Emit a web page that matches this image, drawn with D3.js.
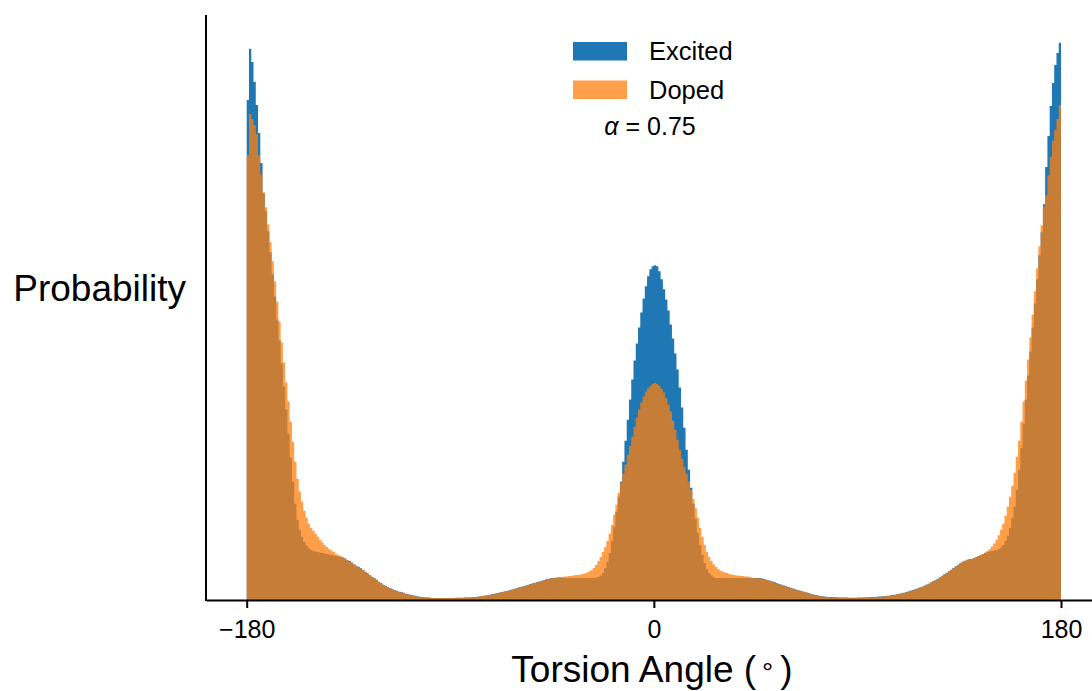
<!DOCTYPE html>
<html><head><meta charset="utf-8">
<script src="https://cdn.jsdelivr.net/npm/d3@7"></script>
<style>
body{margin:0;background:#fff}
svg text{font-family:"Liberation Sans",Arial,Helvetica,sans-serif;fill:#000}
</style>
</head><body>
<svg id="chart" width="1092" height="691"></svg>
<script>
// Torsion angle histogram, 1-degree bins from -180 to 180 (relative probability, arbitrary units)
const binEdges = d3.range(-180, 181, 1);
const excited = [
49.9,55.0,53.7,51.7,49.4,46.6,43.6,40.6,38.8,36.8,
34.7,32.5,30.3,28.0,25.9,23.6,21.3,19.0,16.6,14.2,
11.8,9.6,8.0,7.0,6.3,5.8,5.45,5.2,5.0,4.9,
4.85,4.8,4.75,4.7,4.65,4.6,4.55,4.5,4.45,4.4,
4.35,4.3,4.25,4.15,4.0,3.88,3.73,3.58,3.43,3.33,
3.18,3.03,2.83,2.68,2.48,2.33,2.18,2.03,1.83,1.68,
1.53,1.43,1.28,1.18,1.08,0.98,0.92,0.82,0.77,0.72,
0.62,0.57,0.52,0.47,0.42,0.37,0.32,0.3,0.28,0.26,
0.24,0.22,0.21,0.21,0.2,0.2,0.2,0.2,0.2,0.21,
0.21,0.21,0.22,0.22,0.22,0.23,0.24,0.25,0.26,0.27,
0.29,0.31,0.34,0.37,0.41,0.44,0.48,0.52,0.57,0.62,
0.67,0.72,0.77,0.82,0.87,0.92,0.99,1.06,1.12,1.19,
1.26,1.32,1.37,1.44,1.52,1.59,1.67,1.72,1.79,1.84,
1.92,1.99,2.06,2.12,2.17,2.2,2.22,2.24,2.22,2.22,
2.21,2.2,2.19,2.2,2.2,2.21,2.2,2.19,2.2,2.2,
2.2,2.2,2.2,2.2,2.25,2.3,2.45,2.7,3.2,3.8,
4.7,5.9,7.3,8.8,10.3,11.8,13.8,15.9,18.0,20.0,
22.0,23.9,25.6,27.2,28.7,30.1,31.3,32.3,33.0,33.3,
33.4,33.3,32.8,32.0,31.0,30.0,28.9,27.5,26.1,24.6,
23.0,21.2,19.2,17.2,15.0,13.0,11.2,9.6,8.1,6.7,
5.5,4.5,3.7,3.1,2.7,2.45,2.3,2.2,2.2,2.2,
2.2,2.21,2.2,2.2,2.19,2.2,2.2,2.21,2.2,2.2,
2.2,2.2,2.2,2.2,2.2,2.2,2.19,2.17,2.12,2.05,
1.98,1.92,1.84,1.76,1.67,1.59,1.52,1.44,1.36,1.29,
1.22,1.15,1.08,1.01,0.95,0.88,0.82,0.75,0.69,0.62,
0.56,0.5,0.45,0.4,0.37,0.34,0.32,0.3,0.29,0.28,
0.27,0.26,0.26,0.25,0.24,0.24,0.23,0.23,0.23,0.23,
0.24,0.24,0.25,0.26,0.27,0.28,0.29,0.31,0.32,0.34,
0.36,0.38,0.4,0.42,0.45,0.49,0.53,0.57,0.62,0.67,
0.72,0.78,0.85,0.92,0.99,1.07,1.15,1.24,1.32,1.42,
1.52,1.62,1.74,1.86,1.98,2.12,2.27,2.42,2.57,2.72,
2.87,3.02,3.19,3.37,3.52,3.67,3.82,3.92,4.02,4.07,
4.1,4.2,4.3,4.4,4.5,4.6,4.7,4.8,4.85,4.9,
4.95,5.0,5.1,5.25,5.5,5.9,6.4,7.2,8.2,9.3,
11.0,13.0,15.2,17.6,20.0,22.4,24.8,27.2,29.6,32.0,
34.4,36.7,39.5,43.2,46.3,49.3,51.6,53.4,54.6,55.6
];
const doped = [
44.4,48.5,48.0,47.4,46.5,44.4,42.5,40.7,39.2,37.5,
35.7,33.8,31.8,29.8,27.8,25.7,23.7,21.7,19.8,17.8,
15.8,13.8,12.1,10.8,9.8,8.9,8.2,7.6,7.2,6.9,
6.6,6.3,6.0,5.75,5.5,5.3,5.1,4.95,4.8,4.65,
4.5,4.4,4.3,4.15,4.0,3.85,3.7,3.55,3.4,3.3,
3.15,3.0,2.8,2.65,2.45,2.3,2.15,2.0,1.8,1.65,
1.5,1.4,1.25,1.15,1.05,0.95,0.9,0.8,0.75,0.7,
0.6,0.55,0.5,0.45,0.4,0.35,0.3,0.28,0.26,0.24,
0.22,0.21,0.2,0.2,0.19,0.19,0.19,0.19,0.19,0.2,
0.2,0.2,0.21,0.21,0.21,0.22,0.23,0.24,0.25,0.26,
0.28,0.3,0.33,0.36,0.4,0.43,0.47,0.5,0.55,0.6,
0.65,0.7,0.75,0.8,0.85,0.9,0.97,1.04,1.1,1.17,
1.24,1.3,1.35,1.42,1.5,1.57,1.65,1.7,1.77,1.82,
1.9,1.97,2.04,2.1,2.15,2.18,2.2,2.22,2.3,2.3,
2.35,2.35,2.4,2.4,2.45,2.5,2.5,2.55,2.6,2.65,
2.75,2.85,3.0,3.2,3.5,3.9,4.3,4.8,5.3,5.9,
6.6,7.5,8.5,9.5,10.7,11.7,12.6,13.5,14.5,15.4,
16.3,17.3,18.2,19.0,19.7,20.3,20.8,21.1,21.35,21.55,
21.65,21.55,21.35,21.05,20.7,20.1,19.5,18.8,17.9,17.0,
16.0,15.0,14.1,13.3,12.6,11.8,11.0,10.1,9.2,8.2,
7.2,6.3,5.5,4.8,4.3,3.9,3.55,3.3,3.1,2.95,
2.85,2.75,2.7,2.6,2.55,2.5,2.45,2.45,2.4,2.4,
2.35,2.35,2.3,2.25,2.2,2.17,2.16,2.14,2.09,2.02,
1.95,1.89,1.81,1.73,1.64,1.56,1.49,1.41,1.33,1.26,
1.19,1.12,1.05,0.98,0.92,0.85,0.79,0.72,0.66,0.59,
0.53,0.47,0.42,0.37,0.34,0.31,0.29,0.27,0.26,0.25,
0.24,0.23,0.23,0.22,0.21,0.21,0.2,0.2,0.2,0.2,
0.21,0.21,0.22,0.23,0.24,0.25,0.26,0.28,0.29,0.31,
0.33,0.35,0.37,0.39,0.42,0.46,0.5,0.54,0.59,0.64,
0.69,0.75,0.82,0.89,0.96,1.04,1.12,1.21,1.29,1.39,
1.49,1.59,1.71,1.83,1.95,2.09,2.24,2.39,2.54,2.69,
2.84,2.99,3.16,3.34,3.49,3.64,3.79,3.89,3.99,4.04,
4.1,4.2,4.3,4.4,4.5,4.6,4.75,4.9,5.1,5.35,
5.65,6.0,6.45,7.0,7.6,8.4,9.3,10.3,11.4,12.7,
14.3,15.9,17.8,19.8,21.9,24.0,26.2,28.5,30.8,33.1,
35.3,37.4,39.3,40.4,42.4,44.2,45.8,46.9,48.0,49.4
];
const tickValues = [-180, 0, 180];
const seriesNames = ["Excited", "Doped"];
const seriesColors = ["#1f77b4", "#ff7f0e"];
const seriesOpacity = [1, 0.75];
const alphaText = "0.75";

const svg = d3.select("#chart");
const plot = {left: 206, top: 15, bottom: 600};
const x = d3.scaleLinear().domain([-198, 198]).range([206, 1101.7]);
const yMax = d3.max(excited.concat(doped)) * 1.05;
const y = d3.scaleLinear().domain([0, yMax]).range([plot.bottom, plot.top]);

// each histogram drawn as one stepped area (bars of full bin width, no seams)
const area = d3.area()
  .curve(d3.curveStepAfter)
  .x(d => x(d.edge))
  .y0(y(0))
  .y1(d => y(d.value));

[excited, doped].forEach((series, s) => {
  const pts = binEdges.map((edge, i) => ({edge, value: series[Math.min(i, series.length - 1)]}));
  svg.append("path")
    .datum(pts)
    .attr("d", area)
    .attr("fill", seriesColors[s])
    .attr("fill-opacity", seriesOpacity[s]);
});

// x axis
const xAxis = d3.axisBottom(x)
  .tickValues(tickValues)
  .tickFormat(d => d < 0 ? "\u2212" + Math.abs(d) : String(d))
  .tickSize(8).tickSizeOuter(0).tickPadding(12);
const gx = svg.append("g").attr("transform", `translate(0,${plot.bottom})`).call(xAxis);
gx.select(".domain").attr("stroke", "#000").attr("stroke-width", 2);
gx.selectAll(".tick line").attr("stroke", "#000").attr("stroke-width", 2);
gx.selectAll(".tick text").attr("font-size", 25);

// left spine
svg.append("line")
  .attr("x1", plot.left).attr("x2", plot.left)
  .attr("y1", plot.top).attr("y2", plot.bottom + 1)
  .attr("stroke", "#000").attr("stroke-width", 2);

// axis labels
svg.append("text").attr("x", 186).attr("y", 301)
  .attr("text-anchor", "end").attr("font-size", 37).text("Probability");
const xl = svg.append("text").attr("x", 652).attr("y", 682)
  .attr("text-anchor", "middle").attr("font-size", 37);
xl.append("tspan").text("Torsion Angle (");
xl.append("tspan").attr("dx", 6).attr("font-size", 28).text("\u00b0");
xl.append("tspan").attr("dx", 7).text(")");

// legend
const lg = svg.append("g");
seriesNames.forEach((name, i) => {
  lg.append("rect").attr("x", 573).attr("y", 42 + i * 38.5).attr("width", 54).attr("height", 18.5)
    .attr("fill", seriesColors[i]).attr("fill-opacity", seriesOpacity[i]);
  lg.append("text").attr("x", 649).attr("y", 60 + i * 38.5).attr("font-size", 25.5).text(name);
});
const at = lg.append("text").attr("x", 650).attr("y", 135).attr("text-anchor", "middle").attr("font-size", 25);
at.append("tspan").attr("font-style", "italic").text("\u03b1");
at.append("tspan").text(" = " + alphaText);
</script>
</body></html>
